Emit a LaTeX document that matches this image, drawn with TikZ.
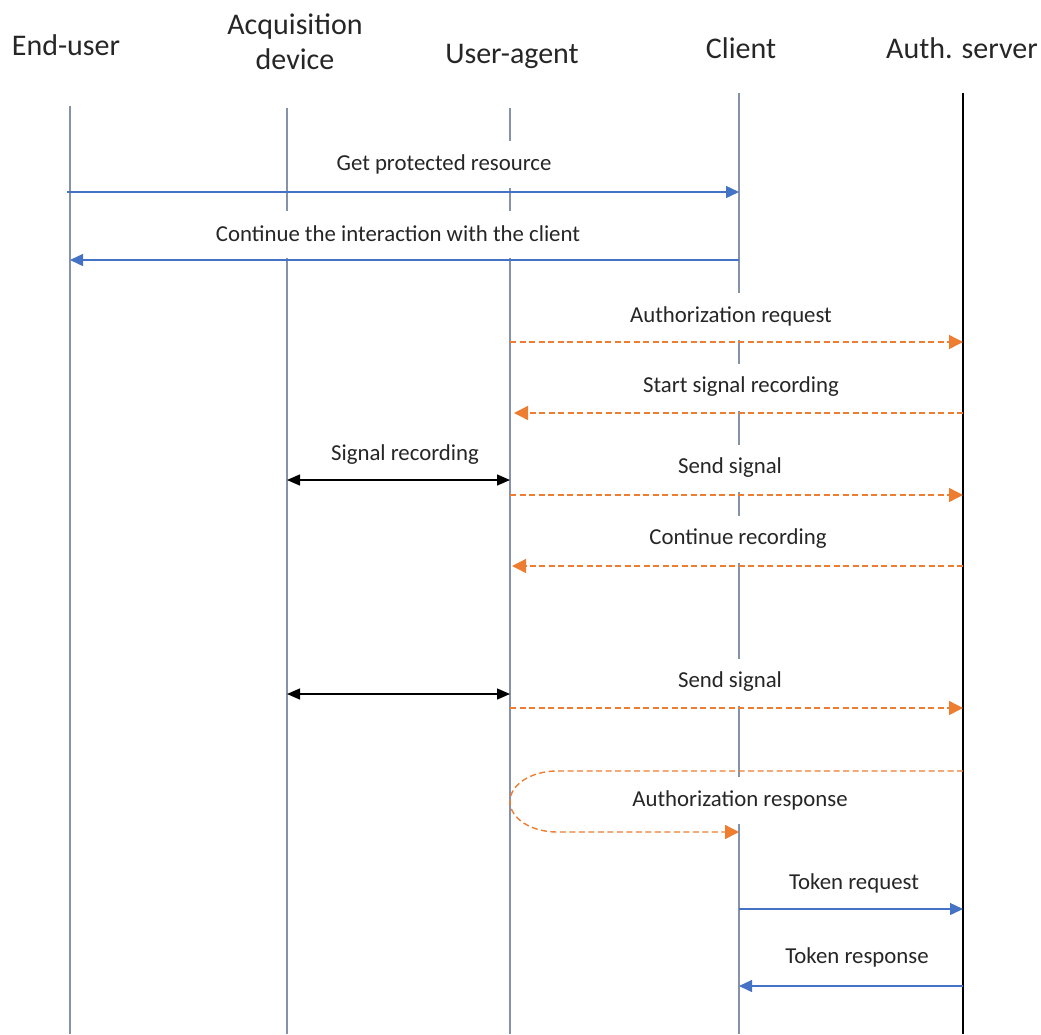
\documentclass[tikz,border=0pt]{standalone}
\usepackage{fontspec}
\setmainfont{Carlito}
\usetikzlibrary{arrows.meta}
\definecolor{msgblue}{HTML}{4472C4}
\definecolor{msgorange}{HTML}{ED7D31}
\definecolor{lifegray}{HTML}{8592AA}
\definecolor{inkgray}{HTML}{262626}
\begin{document}
\begin{tikzpicture}[x=1pt,y=-1pt,
  actor/.style={font=\fontsize{30}{36}\selectfont, text=inkgray, inner sep=0pt, align=center},
  lifeline/.style={draw=lifegray, line width=1.3pt},
  serverline/.style={draw=black, line width=1.5pt},
  msglabel/.style={font=\fontsize{22.8}{27}\selectfont, text=inkgray, fill=white,
    minimum height=47pt, inner xsep=6pt, inner ysep=0pt},
  callarrow/.style={draw=msgblue, line width=1.4pt, -{Triangle[length=13pt,width=12pt]}},
  asyncarrow/.style={draw=msgorange, line width=1.4pt, dash pattern=on 6pt off 3.5pt,
    -{Triangle[length=14pt,width=14pt]}},
  linkarrow/.style={draw=black, line width=1.4pt,
    {Triangle[length=13pt,width=11pt]}-{Triangle[length=13pt,width=11pt]}},
]
\useasboundingbox (0,0) rectangle (1041,1034);

% participants
\node[actor] (hEU) at (66,45) {End-user};
\node[actor] (hAD) at (295,42) {Acquisition\\[-1pt]device};
\node[actor] (hUA) at (512,56) {User-agent};
\node[actor] (hCL) at (741,48) {Client};
\node[actor] (hAS) at (962,48) {Auth. server};

% lifeline ends
\coordinate (eu) at (70,106);   \coordinate (euB) at (70,1034);
\coordinate (ad) at (287,108);  \coordinate (adB) at (287,1034);
\coordinate (ua) at (510,108);  \coordinate (uaB) at (510,1034);
\coordinate (cl) at (739,93);   \coordinate (clB) at (739,1034);
\coordinate (as) at (963,93);   \coordinate (asB) at (963,1034);

\draw[lifeline] (eu) -- (euB);
\draw[lifeline] (ad) -- (adB);
\draw[lifeline] (ua) -- (uaB);
\draw[lifeline] (cl) -- (clB);
\draw[serverline] (as) -- (asB);

% message rows
\coordinate (m1) at (0,192);
\coordinate (m2) at (0,260);
\coordinate (m3) at (0,342);
\coordinate (m4) at (0,413);
\coordinate (m5) at (0,480);
\coordinate (m6) at (0,495);
\coordinate (m7) at (0,566);
\coordinate (m8) at (0,694);
\coordinate (m9) at (0,708);
\coordinate (m10a) at (0,771);
\coordinate (m10m) at (0,801.5);
\coordinate (m10b) at (0,832);
\coordinate (m11) at (0,909);
\coordinate (m12) at (0,986);

% message labels (white boxes interrupt the lifelines behind them)
\node[msglabel] (l1) at (444,164) {Get protected resource};
\node[msglabel] (l2) at (398,234) {Continue the interaction with the client};
\node[msglabel] (l3) at (731,316) {Authorization request};
\node[msglabel] (l4) at (741,387) {Start signal recording};
\node[msglabel] (l5) at (405,455) {Signal recording};
\node[msglabel] (l6) at (730,468) {Send signal};
\node[msglabel] (l7) at (738,539) {Continue recording};
\node[msglabel] (l9) at (730,682) {Send signal};
\node[msglabel] (l10) at (740,800) {Authorization response};
\node[msglabel] (l11) at (854,883) {Token request};
\node[msglabel] (l12) at (857,957) {Token response};

% messages
\draw[callarrow] ([xshift=-3pt]eu |- m1) -- (cl |- m1);
\draw[callarrow] (cl |- m2) -- (eu |- m2);
\draw[asyncarrow] (ua |- m3) -- (as |- m3);
\draw[asyncarrow] (as |- m4) -- ([xshift=4pt]ua |- m4);
\draw[linkarrow] (ad |- m5) -- (ua |- m5);
\draw[asyncarrow] (ua |- m6) -- (as |- m6);
\draw[asyncarrow] (as |- m7) -- ([xshift=2pt]ua |- m7);
\draw[linkarrow] (ad |- m8) -- (ua |- m8);
\draw[asyncarrow] (ua |- m9) -- (as |- m9);
% the response loops back round the user-agent to the client
\draw[asyncarrow] (as |- m10a) -- ([xshift=47pt]ua |- m10a)
  .. controls ([xshift=21pt]ua |- m10a) and ([yshift=16.8pt]ua |- m10m) .. (ua |- m10m)
  .. controls ([yshift=-16.8pt]ua |- m10m) and ([xshift=21pt]ua |- m10b) .. ([xshift=47pt]ua |- m10b)
  -- (cl |- m10b);
\draw[callarrow] (cl |- m11) -- (as |- m11);
\draw[callarrow] (as |- m12) -- (cl |- m12);
\end{tikzpicture}
\end{document}
